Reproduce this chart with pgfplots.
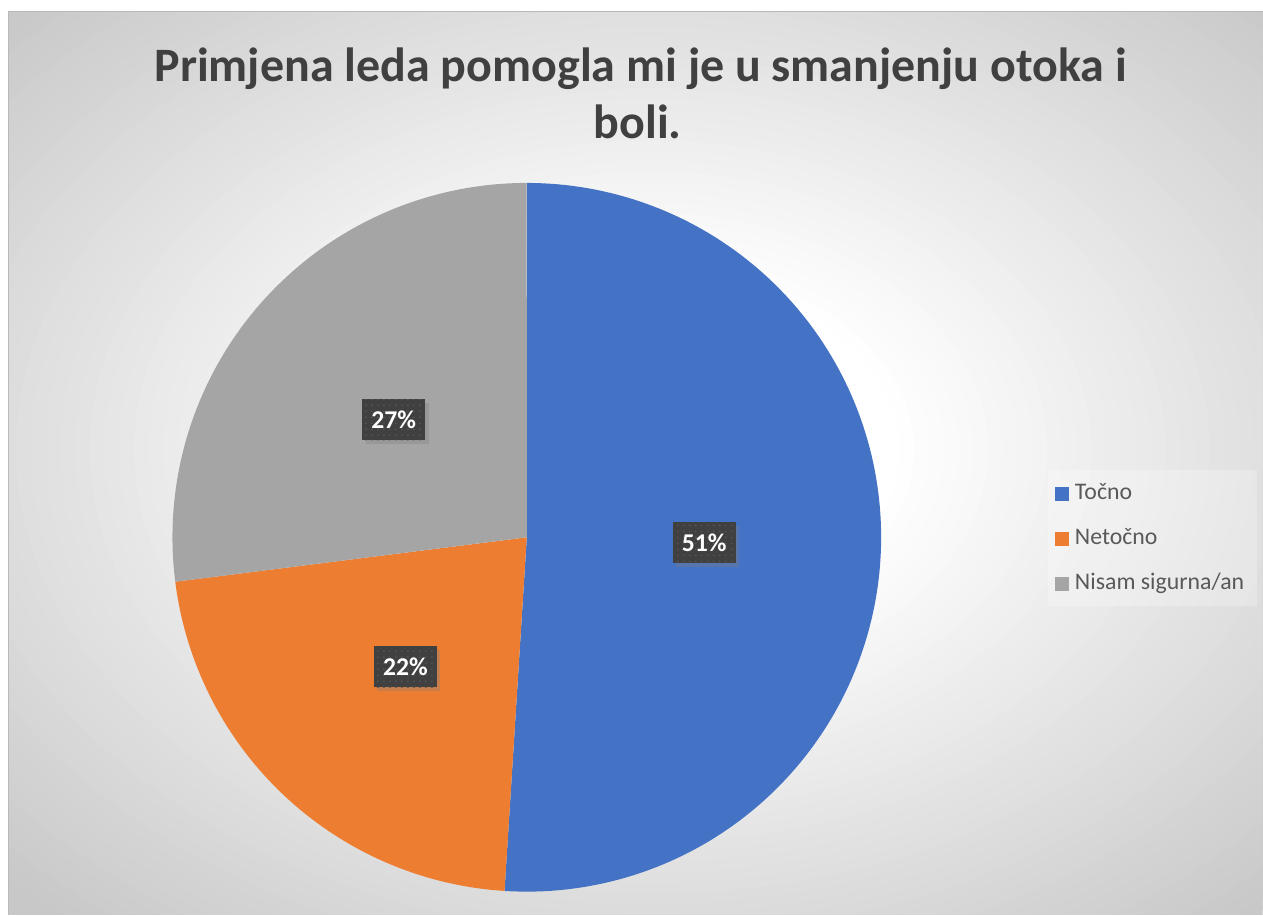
\documentclass[border=0pt]{standalone}
\usepackage{pgfplots}
\pgfplotsset{compat=1.18}
\usepackage{pgfplotstable}
\usepackage{fontspec}
\setmainfont{Carlito}
\usetikzlibrary{shadows,patterns}
\definecolor{tocno}{HTML}{4472C4}
\definecolor{netocno}{HTML}{ED7D31}
\definecolor{nisam}{HTML}{A5A5A5}
\definecolor{titlec}{HTML}{404040}
\definecolor{legc}{HTML}{595959}
\definecolor{labelbg}{HTML}{404040}
\definecolor{labeldot}{HTML}{555555}
\definecolor{framec}{RGB}{185,185,185}

\pgfplotstableread{
label value
Tocno 51
Netocno 22
Nisam 27
}\piedata
\pgfplotstablegetelem{0}{value}\of\piedata \let\va\pgfplotsretval
\pgfplotstablegetelem{1}{value}\of\piedata \let\vb\pgfplotsretval
\pgfplotstablegetelem{2}{value}\of\piedata \let\vc\pgfplotsretval
\pgfmathsetmacro\vsum{\va+\vb+\vc}
\pgfmathsetmacro\aO{90}
\pgfmathsetmacro\aA{90-360*(\va/\vsum)}
\pgfmathsetmacro\aB{\aA-360*(\vb/\vsum)}
\pgfmathsetmacro\aC{\aB-360*(\vc/\vsum)}
\pgfmathsetmacro\mA{(\aO+\aA)/2}
\pgfmathsetmacro\mB{(\aA+\aB)/2}
\pgfmathsetmacro\mC{(\aB+\aC)/2}
\pgfmathtruncatemacro\pA{round(100*(\va/\vsum))}
\pgfmathtruncatemacro\pB{round(100*(\vb/\vsum))}
\pgfmathtruncatemacro\pC{round(100*(\vc/\vsum))}
\def\cx{527}\def\cy{537.5}\def\R{354.5}\def\rl{177.5}

\begin{document}
\begin{tikzpicture}
% chart area background (radial grey gradient), 1px = 0.5pt
\fill[white] (0,0) rectangle (631.5pt,457.5pt);
\begin{scope}
\clip (4.5pt,0pt) rectangle (631.5pt,451.5pt);
\definecolor{bgc}{gray}{0.784}
\fill[bgc] (4.5pt,0pt) rectangle (631.5pt,451.5pt);
\foreach \i in {0,...,44}{
  \pgfmathsetmacro\d{900-\i*14.7727}
  \pgfmathsetmacro\g{min(1,(255-55*((\d-250)/650))/255)}
  \definecolor{bgc}{gray}{\g}
  \fill[bgc] (325pt,232.5pt) ellipse [x radius=\d*0.5pt, y radius=\d*0.35pt];
}
\end{scope}
\draw[framec, line width=0.5pt] (4.5pt,0pt) -- (4.5pt,451.5pt) -- (631.5pt,451.5pt);

\begin{axis}[
  at={(0,0)}, anchor=south west,
  x=0.5pt, y=0.5pt,
  xmin=0, xmax=1263, ymin=0, ymax=915,
  y dir=reverse,
  hide axis, clip=false,
  scale only axis,
]
\path (axis cs:0,0) rectangle (axis cs:1263,915);

\addplot[draw=none, fill=tocno, domain=\aO:\aA, samples=150, variable=\t]
  ({\cx+\R*cos(\t)}, {\cy-\R*sin(\t)}) -- (axis cs:\cx,\cy) -- cycle;
\addplot[draw=none, fill=netocno, domain=\aA:\aB, samples=100, variable=\t]
  ({\cx+\R*cos(\t)}, {\cy-\R*sin(\t)}) -- (axis cs:\cx,\cy) -- cycle;
\addplot[draw=none, fill=nisam, domain=\aB:\aC, samples=100, variable=\t]
  ({\cx+\R*cos(\t)}, {\cy-\R*sin(\t)}) -- (axis cs:\cx,\cy) -- cycle;

\tikzset{lbl/.style={fill=labelbg, text=white, font=\fontsize{12.8}{15}\selectfont\bfseries,
  minimum width=31.5pt, minimum height=20.5pt, inner sep=0pt,
  drop shadow={shadow xshift=1.8pt, shadow yshift=-1.8pt, opacity=0.35},
  postaction={pattern=dots, pattern color=labeldot}}}
\node[lbl] at (axis cs:{\cx+\rl*cos(\mA)},{\cy-\rl*sin(\mA)}) {\pA\%};
\node[lbl] at (axis cs:{\cx+\rl*cos(\mB)},{\cy-\rl*sin(\mB)}) {\pB\%};
\node[lbl] at (axis cs:{\cx+\rl*cos(\mC)},{\cy-\rl*sin(\mC)}) {\pC\%};

% title
\node[anchor=base, text=titlec, font=\fontsize{24}{29}\selectfont\bfseries] at (axis cs:641,82) {Primjena leda pomogla mi je u smanjenju otoka i};
\node[anchor=base, text=titlec, font=\fontsize{24}{29}\selectfont\bfseries] at (axis cs:638,139) {boli.};

% legend
\fill[white, opacity=0.25] (axis cs:1048,470) rectangle (axis cs:1257,606);
\fill[tocno] (axis cs:1055,487) rectangle (axis cs:1069,501);
\fill[netocno] (axis cs:1055,532) rectangle (axis cs:1069,546);
\fill[nisam] (axis cs:1055,577) rectangle (axis cs:1069,591);
\tikzset{leg/.style={anchor=base west, inner sep=0pt, text=legc, font=\fontsize{11.9}{13}\selectfont}}
\node[leg] at (axis cs:1075,500) {Točno};
\node[leg] at (axis cs:1075,545) {Netočno};
\node[leg] at (axis cs:1075,590) {Nisam sigurna/an};
\end{axis}
\end{tikzpicture}
\end{document}
